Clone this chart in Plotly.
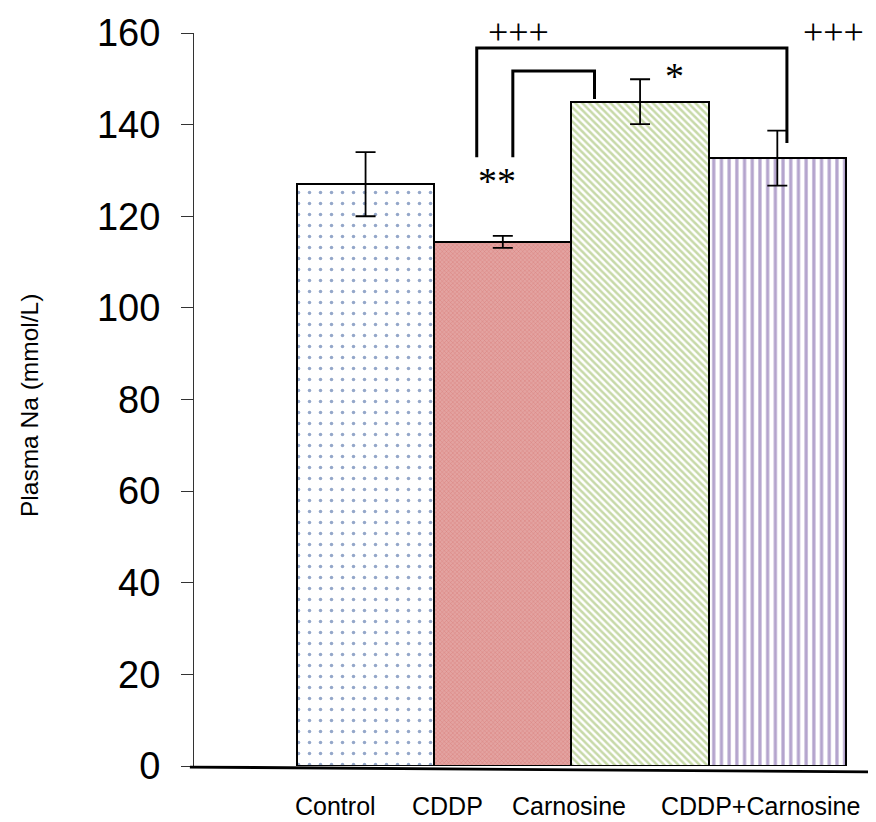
import plotly.graph_objects as go

categories = ["Control", "CDDP", "Carnosine", "CDDP+Carnosine"]
means = [127.0, 114.4, 145.0, 132.7]
errors = [7.0, 1.3, 4.9, 6.0]
y_ticks = [0, 20, 40, 60, 80, 100, 120, 140, 160]

fills = ["white", "#e3a3a1", "white", "white"]
pat_shapes = [".", "x", "\\", "|"]
pat_colors = ["#2a4f94", "#c9504d", "#8fb352", "#6a4a9c"]
pat_sizes = [11, 3, 5, 7.7]
pat_solid = [0.08, 0.25, 0.5, 0.42]

fig = go.Figure()
for i, c in enumerate(categories):
    fig.add_trace(go.Bar(
        x=[i], y=[means[i]], width=1.0, name=c,
        marker=dict(color=fills[i], line=dict(color="black", width=2),
                    pattern=dict(shape=pat_shapes[i], fgcolor=pat_colors[i],
                                 bgcolor=fills[i], size=pat_sizes[i],
                                 solidity=pat_solid[i])),
        error_y=dict(type="data", array=[errors[i]], color="black",
                     thickness=1.8, width=10),
        showlegend=False,
    ))

# significance brackets
sig_lines = [
    [(0.81, 132.9), (0.81, 156.7), (3.07, 156.7), (3.07, 136.0)],
    [(1.073, 132.9), (1.073, 151.7), (1.668, 151.7), (1.668, 145.6)],
]
for pts in sig_lines:
    path = "M " + " L ".join(f"{x},{y}" for x, y in pts)
    fig.add_shape(type="path", path=path, xref="x", yref="y",
                  line=dict(color="black", width=3))

Y_MAX = 160.0
marks = [("+++", 1.113, 160.2, 36), ("+++", 3.41, 160.2, 36),
         ("*", 2.248, 150.6, 38), ("**", 0.956, 127.8, 38)]
for t, x, y, fs in marks:
    fig.add_annotation(text=t, x=x, y=y / Y_MAX, xref="x", yref="paper",
                       xanchor="center", yanchor="middle", showarrow=False,
                       font=dict(family="Liberation Serif", size=fs, color="black"))

# category labels under the axis
label_x = [-0.216, 0.595, 1.485, 2.877]
for lab, x in zip(categories, label_x):
    fig.add_annotation(text=lab, x=x, y=0, xref="x", yref="paper", yshift=-40,
                       xanchor="center", yanchor="middle", showarrow=False,
                       font=dict(family="Liberation Sans", size=25, color="black"))

# y-axis title
fig.add_annotation(text="Plasma Na (mmol/L)", x=-0.2405, y=0.4925, xref="paper", yref="paper",
                   textangle=-90, xanchor="center", yanchor="middle", showarrow=False,
                   font=dict(family="Liberation Sans", size=24.5, color="black"))

# slightly tilted baseline
fig.add_shape(type="line", xref="paper", yref="paper", x0=-0.006, x1=1.0,
              y0=-0.0014, y1=-0.0082, line=dict(color="black", width=2.8))

fig.update_layout(
    width=868, height=814,
    margin=dict(l=186, r=0, t=25, b=56),
    paper_bgcolor="white", plot_bgcolor="white",
    bargap=0,
    xaxis=dict(range=[-1.25, 3.719], showticklabels=False, showgrid=False,
               zeroline=False, showline=False, ticks=""),
    yaxis=dict(range=[0, Y_MAX], tickvals=y_ticks, showgrid=False, zeroline=False,
               showline=True, linecolor="#333", linewidth=1.2,
               ticks="outside", ticklen=12, tickcolor="#333", tickwidth=1.2,
               ticklabelstandoff=13,
               tickfont=dict(family="Liberation Sans", size=38, color="black")),
)

fig.write_html("out.html")
